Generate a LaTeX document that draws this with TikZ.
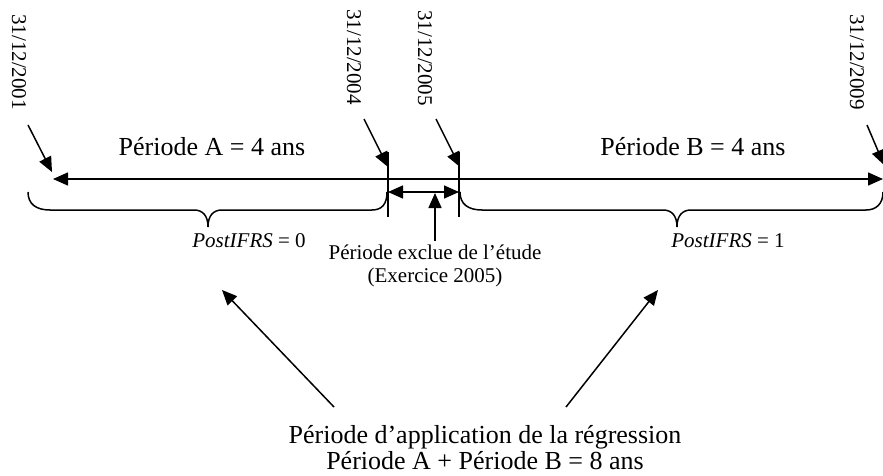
\documentclass[tikz,border=0pt]{standalone}
\usepackage{fontspec}
\setmainfont{Liberation Serif}
\usetikzlibrary{arrows.meta}
\begin{document}
\begin{tikzpicture}[x=1pt,y=-1pt,
  line width=1.5pt,
  arr/.style={-{Triangle[length=15pt,width=13pt]}},
  dbl/.style={{Triangle[length=15pt,width=13pt]}-{Triangle[length=15pt,width=13pt]}},
  bigtxt/.style={font=\fontsize{26}{26}\selectfont, inner sep=0pt, anchor=base},
  smalltxt/.style={font=\fontsize{21}{23}\selectfont, inner sep=0pt, anchor=base},
  datetxt/.style={font=\fontsize{21}{23}\selectfont, inner sep=0pt, rotate=-90},
  brace/.style={line width=1.5pt}]
\useasboundingbox (0,0) rectangle (883,476);

% date labels
\node[datetxt] (d1) at (19,62) {31/12/2001};
\node[datetxt] (d2) at (354,57) {31/12/2004};
\node[datetxt] (d3) at (425,58) {31/12/2005};
\node[datetxt] (d4) at (857,62) {31/12/2009};

% key coordinates
\coordinate (s1) at (28,125);  \coordinate (t1) at (52,172);
\coordinate (s2) at (364,119); \coordinate (t2) at (388,167);
\coordinate (s3) at (436,119); \coordinate (t3) at (460,167);
\coordinate (s4) at (867,125); \coordinate (t4) at (884,165);
\coordinate (L) at (53,179);   \coordinate (R) at (883,179);
\coordinate (k1a) at (388,152); \coordinate (k1b) at (388,217);
\coordinate (k2a) at (459,152); \coordinate (k2b) at (459,217);
\coordinate (e1) at (388,192); \coordinate (e2) at (459,192);
\coordinate (u1) at (435,241); \coordinate (u2) at (435,193);

% period labels
\node[bigtxt] (pa) at (212,155) {Période A = 4 ans};
\node[bigtxt] (pb) at (693,155) {Période B = 4 ans};

% date arrows
\draw[arr] (s1) -- (t1);
\draw[arr] (s2) -- (t2);
\draw[arr] (s3) -- (t3);
\draw[arr] (s4) -- (t4);

% main timeline
\draw[dbl] (L) -- (R);

% ticks
\draw (k1a) -- (k1b);
\draw (k2a) -- (k2b);

% excluded period arrow
\draw[dbl] (e1) -- (e2);
\draw[arr] (u1) -- (u2);

% braces
\draw[brace] (28,192) .. controls (28,204) and (36,210) .. (50,210) -- (194,210)
  .. controls (203,210) and (208,216) .. (208,227)
  .. controls (208,216) and (213,210) .. (222,210) -- (372,210)
  .. controls (382,210) and (387,204) .. (387,192);
\draw[brace] (460,192) .. controls (460,204) and (468,210) .. (482,210) -- (663,210)
  .. controls (672,210) and (677,216) .. (677,227)
  .. controls (677,216) and (682,210) .. (691,210) -- (866,210)
  .. controls (876,210) and (883,204) .. (883,192);

% lower labels
\node[smalltxt] (pi0) at (249,247) {\textit{PostIFRS} = 0};
\node[smalltxt] (pi1) at (728,247) {\textit{PostIFRS} = 1};
\node[smalltxt, align=center, anchor=base] (ex) at (435,282) {Période exclue de l’étude\\(Exercice 2005)};

% regression label
\node[bigtxt, align=center] (reg) at (485,469) {Période d’application de la régression\\Période A + Période B = 8 ans};
\coordinate (b1) at (334,407); \coordinate (b2) at (222,290);
\coordinate (b3) at (566,407); \coordinate (b4) at (658,290);
\draw[arr] (b1) -- (b2);
\draw[arr] (b3) -- (b4);
\end{tikzpicture}
\end{document}
